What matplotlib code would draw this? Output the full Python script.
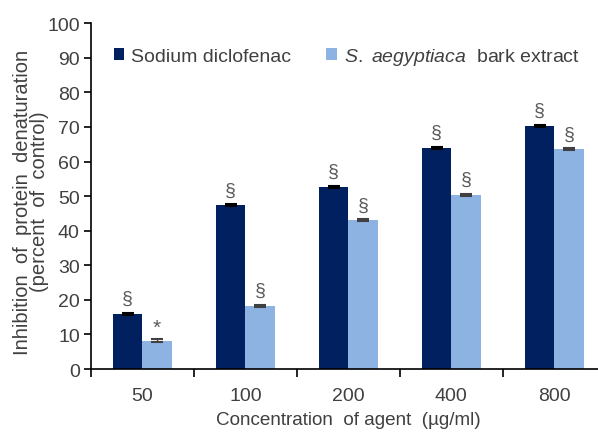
import numpy as np
import matplotlib.pyplot as plt
from matplotlib.ticker import FixedLocator

plt.rcParams['font.family'] = ['Liberation Sans', 'DejaVu Sans']
plt.rcParams['mathtext.fontset'] = 'custom'
plt.rcParams['mathtext.it'] = 'Liberation Sans:italic'
plt.rcParams['mathtext.rm'] = 'Liberation Sans'

# Data
concentrations = ['50', '100', '200', '400', '800']
diclofenac = [15.9, 47.3, 52.6, 63.9, 70.3]
diclofenac_err = [0.4, 0.3, 0.3, 0.3, 0.4]
extract = [8.2, 18.3, 43.0, 50.3, 63.5]
extract_err = [0.4, 0.3, 0.3, 0.3, 0.3]
diclofenac_marks = ['§', '§', '§', '§', '§']
extract_marks = ['*', '§', '§', '§', '§']

dark = '#002060'
light = '#8DB3E2'
text_col = '#404040'

fig = plt.figure(figsize=(5.98, 4.39), dpi=100)
ax = fig.add_axes([0.152, 0.157, 0.861, 0.788])

x = np.arange(len(concentrations))
w = 0.285
ax.bar(x - w / 2, diclofenac, w, color=dark, label='Sodium diclofenac',
       yerr=diclofenac_err, error_kw=dict(ecolor='black', capsize=4, capthick=1.5, elinewidth=1))
ax.bar(x + w / 2, extract, w, color=light, label=r'$\it{S.\ aegyptiaca}$  bark extract',
       yerr=extract_err, error_kw=dict(ecolor='#404040', capsize=4, capthick=1.5, elinewidth=1))

for i in range(len(x)):
    ax.text(x[i] - w / 2, diclofenac[i] + 2.0, diclofenac_marks[i], ha='center', va='bottom',
            fontsize=14, color='#595959')
    if extract_marks[i] == '*':
        ax.text(x[i] + w / 2, extract[i] + 1.0, extract_marks[i], ha='center', va='bottom',
                fontsize=15, color='#595959')
    else:
        ax.text(x[i] + w / 2, extract[i] + 2.0, extract_marks[i], ha='center', va='bottom',
                fontsize=14, color='#595959')

ax.set_xlim(-0.5, len(x) - 0.5)
ax.set_ylim(0, 100)
ax.set_yticks(np.arange(0, 101, 10))
ax.xaxis.set_major_locator(FixedLocator(np.arange(-0.5, len(x), 1.0)))
ax.xaxis.set_major_formatter(plt.NullFormatter())
ax.xaxis.set_minor_locator(FixedLocator(x))
ax.set_xticklabels(concentrations, minor=True)
ax.tick_params(axis='x', which='minor', length=0, pad=13, labelsize=14, labelcolor=text_col)
ax.tick_params(axis='x', which='major', length=6, width=1.2, direction='out')
ax.tick_params(axis='y', length=5, width=1.2, direction='out', pad=3, labelsize=14,
               labelcolor=text_col)

for s in ['top', 'right']:
    ax.spines[s].set_visible(False)
for s in ['left', 'bottom']:
    ax.spines[s].set_linewidth(1.2)

ax.set_xlabel('Concentration  of agent  (µg/ml)', fontsize=13.6, color=text_col, labelpad=5)
fig.text(0.052, 0.54, 'Inhibition  of  protein  denaturation\n(percent  of  control)',
         rotation=90, ha='center', va='center', multialignment='center', fontsize=14.5,
         color=text_col, linespacing=0.92)

ax.legend(loc='upper left', bbox_to_anchor=(0.01, 0.985), ncol=2, frameon=False,
          handlelength=0.55, handleheight=0.55, handletextpad=0.35, columnspacing=1.8,
          fontsize=14, labelcolor=text_col)

fig.savefig('out.png', dpi=100)
